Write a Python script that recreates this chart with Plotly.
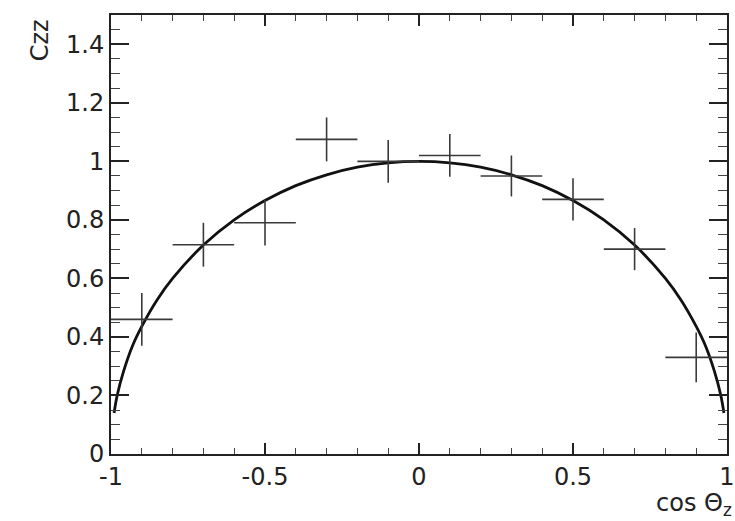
import plotly.graph_objects as go

# measured points
x_pts = [-0.9, -0.7, -0.5, -0.3, -0.1, 0.1, 0.3, 0.5, 0.7, 0.9]
y_pts = [0.46, 0.715, 0.79, 1.075, 1.0, 1.02, 0.95, 0.87, 0.70, 0.33]
x_err = [0.1] * 10
y_err = [0.09, 0.075, 0.078, 0.075, 0.073, 0.073, 0.07, 0.072, 0.072, 0.085]

# theory curve
x_curve = [-0.99, -0.98, -0.96, -0.93, -0.9, -0.85, -0.8, -0.7, -0.6, -0.5, -0.4, -0.3, -0.2, -0.1, 0.0,
           0.1, 0.2, 0.3, 0.4, 0.5, 0.6, 0.7, 0.8, 0.85, 0.9, 0.93, 0.96, 0.98, 0.99]
y_curve = [0.14, 0.20, 0.28, 0.37, 0.436, 0.527, 0.60, 0.714, 0.80, 0.866, 0.917, 0.954, 0.98, 0.995, 1.0,
           0.995, 0.98, 0.954, 0.917, 0.866, 0.80, 0.714, 0.60, 0.527, 0.436, 0.37, 0.28, 0.20, 0.14]

x_ticks = [-1, -0.5, 0, 0.5, 1]
x_tick_labels = ["-1", "-0.5", "0", "0.5", "1"]
y_ticks = [0, 0.2, 0.4, 0.6, 0.8, 1.0, 1.2, 1.4]
y_tick_labels = ["0", "0.2", "0.4", "0.6", "0.8", "1", "1.2", "1.4"]

fig = go.Figure()
fig.add_trace(go.Scatter(
    x=x_curve, y=y_curve, mode="lines", line=dict(color="#111111", width=2.8, shape="spline"),
    showlegend=False, hoverinfo="skip"))
fig.add_trace(go.Scatter(
    x=x_pts, y=y_pts, mode="markers", marker=dict(size=1, color="#3a3a3a"),
    error_x=dict(type="data", array=x_err, width=0, thickness=1.6, color="#3a3a3a"),
    error_y=dict(type="data", array=y_err, width=0, thickness=1.6, color="#3a3a3a"),
    showlegend=False))

font = dict(family="DejaVu Sans, sans-serif", size=24, color="#222222")

fig.update_xaxes(range=[-1, 1], tickvals=x_ticks, ticktext=x_tick_labels,
                 showline=True, linecolor="#222222", linewidth=2, mirror="ticks",
                 ticks="inside", ticklen=11, tickwidth=1.5, tickcolor="#222222",
                 minor=dict(dtick=0.1, ticks="inside", ticklen=6, tickwidth=1.2, tickcolor="#444444"),
                 showgrid=False, zeroline=False, tickfont=font, automargin=False)
fig.update_yaxes(range=[0, 1.5], tickvals=y_ticks, ticktext=y_tick_labels,
                 showline=True, linecolor="#222222", linewidth=2, mirror="ticks",
                 ticks="inside", ticklen=18, tickwidth=1.5, tickcolor="#222222",
                 minor=dict(dtick=0.05, ticks="inside", ticklen=9, tickwidth=1.2, tickcolor="#444444"),
                 showgrid=False, zeroline=False, tickfont=font, automargin=False)

fig.update_layout(
    width=735, height=521,
    margin=dict(l=111, r=8, t=15, b=67),
    paper_bgcolor="white", plot_bgcolor="white",
    annotations=[
        dict(text="Czz", xref="paper", yref="paper", x=-0.115, y=0.995, xanchor="center", yanchor="top",
             textangle=-90, showarrow=False, font=font),
        dict(text="cos \u0398<sub>z</sub>", xref="paper", yref="paper", x=1.012, y=-0.116,
             xanchor="right", yanchor="middle", showarrow=False, font=font),
    ],
)

fig.write_html("out.html", config={"displayModeBar": False},
               post_script="document.body.style.margin='0';")
